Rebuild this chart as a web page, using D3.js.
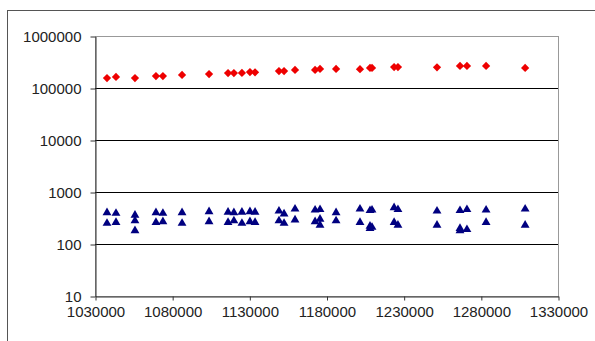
<!DOCTYPE html>
<html lang="en">
  <head>
    <meta charset="UTF-8">
    <script src="https://d3js.org/d3.v7.min.js"></script>
    <style>
      html, body { margin: 0; padding: 0; background: #fff; }
      svg { display: block; font-family: "Liberation Sans", Arial, sans-serif; }
    </style>
  </head>
  <body>
    <svg id="graph" width="595" height="341"></svg>
    <script>
      // x positions shared by both series
      let xs = [1037775, 1043600, 1055900, 1069500, 1074000, 1086400, 1103900, 1116200,
                1120000, 1125200, 1130400, 1133700, 1149200, 1152500, 1159600, 1172600,
                1175800, 1186200, 1201700, 1208200, 1209500, 1223800, 1226300, 1251600,
                1266500, 1271000, 1283400, 1308700];

      // upper series (red diamonds)
      let redY = [155600, 163000, 155000, 170000, 170000, 178000, 185000, 194000,
                  194000, 195000, 203000, 200000, 212000, 212000, 222000, 222000,
                  232000, 232000, 230000, 243000, 243000, 253000, 253000, 250000,
                  265000, 265000, 265000, 243000];

      // lower series (blue triangles), several values per x
      let blueHi = [400, 390, 360, 400, 390, 400, 420, 410, 400, 410, 420, 410, 430, 380,
                    470, 450, 460, 400, 470, 440, 450, 500, 460, 430, 440, 460, 450, 470];
      let blueLo = [250, 260, 280, 260, 270, 250, 270, 260, 280, 250, 270, 260, 280, 250,
                    290, 270, 230, 280, 260, 220, 210, 260, 230, 230, 200, 190, 260, 230];
      let blueExtraX = [1055900, 1175800, 1208200, 1266500];
      let blueExtraY = [180, 300, 200, 180];

      let xTicks = d3.range(1030000, 1330001, 50000);
      let yTicks = [10, 100, 1000, 10000, 100000, 1000000];

      let red = xs.map((x, i) => ({x: x, y: redY[i]}));
      let blue = xs.map((x, i) => ({x: x, y: blueHi[i]}))
        .concat(xs.map((x, i) => ({x: x, y: blueLo[i]})))
        .concat(blueExtraX.map((x, i) => ({x: x, y: blueExtraY[i]})));

      let plotL = 95, plotR = 558, plotT = 36, plotB = 296;

      let x = d3.scaleLinear().domain([1030000, 1330000]).range([plotL, plotR]);
      let y = d3.scaleLog().domain([10, 1000000]).range([plotB, plotT]);

      let svg = d3.select('#graph');

      // chart area border
      svg.append('rect')
        .attr('x', 7.5).attr('y', 10.5)
        .attr('width', 590).attr('height', 340)
        .attr('fill', 'none')
        .attr('stroke', '#555');

      // plot area border (top / right in grey)
      svg.append('rect')
        .attr('x', plotL + 0.5).attr('y', plotT + 0.5)
        .attr('width', plotR - plotL).attr('height', plotB - plotT)
        .attr('fill', 'none')
        .attr('stroke', '#999');

      // gridlines
      svg.append('g')
        .selectAll('line')
        .data(yTicks.slice(1, -1))
        .enter()
        .append('line')
        .attr('x1', plotL).attr('x2', plotR)
        .attr('y1', d => Math.round(y(d)) + 0.5)
        .attr('y2', d => Math.round(y(d)) + 0.5)
        .attr('stroke', '#000');

      let yAxis = svg.append('g')
        .attr('transform', `translate(${plotL + 0.5},0.5)`)
        .call(d3.axisLeft(y).tickValues(yTicks).tickFormat(d3.format('d')).tickSize(5).tickSizeOuter(0).tickPadding(9));

      let xAxis = svg.append('g')
        .attr('transform', `translate(0.5,${plotB + 0.5})`)
        .call(d3.axisBottom(x).tickValues(xTicks).tickFormat(d3.format('d')).tickSize(4).tickSizeOuter(0).tickPadding(6));

      [yAxis, xAxis].forEach(a => {
        a.select('.domain').attr('stroke', '#333');
        a.selectAll('.tick line').attr('stroke', '#333');
        a.selectAll('text').attr('font-size', 15).attr('fill', '#222')
          .attr('font-family', '"Liberation Sans", Arial, sans-serif');
      });

      svg.append('g')
        .selectAll('path')
        .data(blue)
        .enter()
        .append('path')
        .attr('transform', d => `translate(${x(d.x)},${y(d.y)})`)
        .attr('d', d3.symbol().type(d3.symbolTriangle).size(34))
        .attr('fill', '#000080');

      svg.append('g')
        .selectAll('path')
        .data(red)
        .enter()
        .append('path')
        .attr('transform', d => `translate(${x(d.x)},${y(d.y)}) rotate(45)`)
        .attr('d', d3.symbol().type(d3.symbolSquare).size(34))
        .attr('fill', '#ee0000');
    </script>
  </body>
</html>
